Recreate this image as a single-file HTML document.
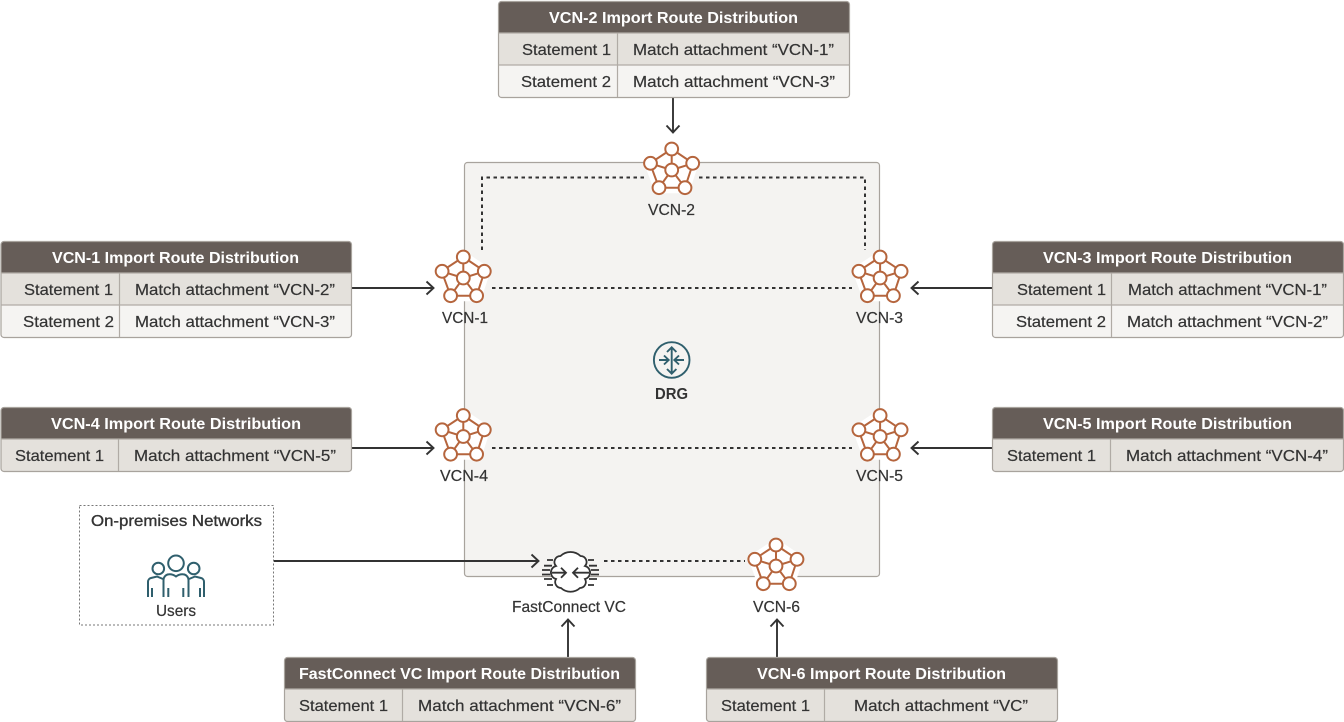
<!DOCTYPE html>
<html><head><meta charset="utf-8"><style>
html,body{margin:0;padding:0;background:#fff}
svg{display:block}
text{font-family:"Liberation Sans",sans-serif;font-size:16px;fill:#333;stroke:#333;stroke-width:.2px}
.t{fill:#fff;stroke:none;font-weight:bold}
.b{fill:#333;stroke:none;font-weight:bold}
.d{fill:none;stroke:#333;stroke-width:2;stroke-dasharray:3.5 3.5}
.a{fill:none;stroke:#333;stroke-width:1.9}
.h{fill:#665d58}.r1{fill:#e4e1dc}.r2{fill:#f5f4f2}
.o{fill:none;stroke:#a8a39d;stroke-width:1.2}
.l{stroke:#b0aba5;stroke-width:1.2;fill:none}
</style></head><body>
<svg width="1344" height="722" viewBox="0 0 1344 722" xmlns="http://www.w3.org/2000/svg">
<defs>
<g id="vcn">
<path d="M671.7 149L650 163.300L659 187.700H685L693 163.300Z" fill="#fff" stroke="#fff" stroke-width="11" stroke-linejoin="round"/>
<g stroke="#b5653d" stroke-width="2" fill="none">
<path d="M671.7 149L650 163.300L659 187.700H685L693 163.300ZM671.7 149V170M650 163.300L671.7 170M693 163.300L671.7 170M659 187.700L671.7 170M685 187.700L671.7 170"/>
<g fill="#fff"><circle cx="671.7" cy="149" r="6.4"/><circle cx="650.500" cy="163.300" r="6.4"/><circle cx="692.700" cy="163.300" r="6.4"/><circle cx="659" cy="187.700" r="6.4"/><circle cx="685" cy="187.700" r="6.4"/><circle cx="671.7" cy="170" r="6.4"/></g>
</g>
</g>
</defs>

<rect x="464.500" y="162.500" width="415" height="414" rx="3" fill="#f4f3f1" stroke="#a8a39d" stroke-width="1.2"/>

<path class="d" d="M482 250V177.500H645"/>
<path class="d" d="M699 177.500H865V250"/>
<path class="d" d="M492 288H852"/>
<path class="d" d="M492 448H852"/>
<path class="d" d="M604 561H745"/>

<path class="a" d="M673 97V132M666.500 125.500L673 132.500L679.500 125.500"/>
<path class="a" d="M352 288H433M426.500 281.500L433.500 288L426.500 294.500"/>
<path class="a" d="M992 288H912M918.500 281.500L911.500 288L918.500 294.500"/>
<path class="a" d="M352 448H433M426.500 441.500L433.500 448L426.500 454.500"/>
<path class="a" d="M992 448H912M918.500 441.500L911.500 448L918.500 454.500"/>
<path class="a" d="M274 561H538M531.500 554.500L538.500 561L531.500 567.500"/>
<path class="a" d="M568 657V620M561.500 626.500L568 619.500L574.500 626.500"/>
<path class="a" d="M777 657V620M770.500 626.500L777 619.500L783.500 626.500"/>

<!-- VCN-2 table -->
<rect x="498.500" y="1.500" width="351" height="96" rx="3" class="r2"/>
<path class="h" d="M498.500 33V4.500a3 3 0 0 1 3-3H846.500a3 3 0 0 1 3 3V33Z"/>
<rect x="498.500" y="33" width="351" height="32" class="r1"/>
<rect x="498.500" y="1.500" width="351" height="96" rx="3" class="o"/>
<path class="l" d="M498.500 33H849.500M498.500 65H849.500M617.500 33V97"/>
<text class="t" x="549" y="23" textLength="249" lengthAdjust="spacingAndGlyphs">VCN-2 Import Route Distribution</text>
<text x="522" y="55" textLength="89" lengthAdjust="spacingAndGlyphs">Statement 1</text>
<text x="633" y="55" textLength="201" lengthAdjust="spacingAndGlyphs">Match attachment “VCN-1”</text>
<text x="521" y="87" textLength="90" lengthAdjust="spacingAndGlyphs">Statement 2</text>
<text x="633" y="87" textLength="202" lengthAdjust="spacingAndGlyphs">Match attachment “VCN-3”</text>

<!-- VCN-1 table -->
<rect x="1" y="241.500" width="350.500" height="96" rx="3" class="r2"/>
<path class="h" d="M1 273V244.500a3 3 0 0 1 3-3H348.500a3 3 0 0 1 3 3V273Z"/>
<rect x="1" y="273" width="350.500" height="32" class="r1"/>
<rect x="1" y="241.500" width="350.500" height="96" rx="3" class="o"/>
<path class="l" d="M1 273H351.500M1 305H351.500M119.500 273V337"/>
<text class="t" x="52" y="263" textLength="247" lengthAdjust="spacingAndGlyphs">VCN-1 Import Route Distribution</text>
<text x="24" y="295" textLength="89" lengthAdjust="spacingAndGlyphs">Statement 1</text>
<text x="135" y="295" textLength="200" lengthAdjust="spacingAndGlyphs">Match attachment “VCN-2”</text>
<text x="23" y="327" textLength="91" lengthAdjust="spacingAndGlyphs">Statement 2</text>
<text x="135" y="327" textLength="200" lengthAdjust="spacingAndGlyphs">Match attachment “VCN-3”</text>

<!-- VCN-3 table -->
<rect x="992.500" y="241.500" width="351" height="96" rx="3" class="r2"/>
<path class="h" d="M992.500 273V244.500a3 3 0 0 1 3-3H1340.500a3 3 0 0 1 3 3V273Z"/>
<rect x="992.500" y="273" width="351" height="32" class="r1"/>
<rect x="992.500" y="241.500" width="351" height="96" rx="3" class="o"/>
<path class="l" d="M992.500 273H1343.500M992.500 305H1343.500M1111.500 273V337"/>
<text class="t" x="1043" y="263" textLength="249" lengthAdjust="spacingAndGlyphs">VCN-3 Import Route Distribution</text>
<text x="1017" y="295" textLength="89" lengthAdjust="spacingAndGlyphs">Statement 1</text>
<text x="1128" y="295" textLength="199" lengthAdjust="spacingAndGlyphs">Match attachment “VCN-1”</text>
<text x="1016" y="327" textLength="90" lengthAdjust="spacingAndGlyphs">Statement 2</text>
<text x="1127" y="327" textLength="201" lengthAdjust="spacingAndGlyphs">Match attachment “VCN-2”</text>

<!-- VCN-4 table -->
<rect x="1" y="407.500" width="350.500" height="64" rx="3" class="r1"/>
<path class="h" d="M1 439V410.500a3 3 0 0 1 3-3H348.500a3 3 0 0 1 3 3V439Z"/>
<rect x="1" y="407.500" width="350.500" height="64" rx="3" class="o"/>
<path class="l" d="M1 439H351.500M118.500 439V471"/>
<text class="t" x="51" y="429" textLength="250" lengthAdjust="spacingAndGlyphs">VCN-4 Import Route Distribution</text>
<text x="15" y="461" textLength="89" lengthAdjust="spacingAndGlyphs">Statement 1</text>
<text x="134" y="461" textLength="202" lengthAdjust="spacingAndGlyphs">Match attachment “VCN-5”</text>

<!-- VCN-5 table -->
<rect x="992.500" y="407.500" width="351" height="64" rx="3" class="r1"/>
<path class="h" d="M992.500 439V410.500a3 3 0 0 1 3-3H1340.500a3 3 0 0 1 3 3V439Z"/>
<rect x="992.500" y="407.500" width="351" height="64" rx="3" class="o"/>
<path class="l" d="M992.500 439H1343.500M1110.500 439V471"/>
<text class="t" x="1043" y="429" textLength="249" lengthAdjust="spacingAndGlyphs">VCN-5 Import Route Distribution</text>
<text x="1007" y="461" textLength="89" lengthAdjust="spacingAndGlyphs">Statement 1</text>
<text x="1126" y="461" textLength="202" lengthAdjust="spacingAndGlyphs">Match attachment “VCN-4”</text>

<!-- FastConnect table -->
<rect x="284.500" y="657.500" width="351" height="64" rx="3" class="r1"/>
<path class="h" d="M284.500 689V660.500a3 3 0 0 1 3-3H632.500a3 3 0 0 1 3 3V689Z"/>
<rect x="284.500" y="657.500" width="351" height="64" rx="3" class="o"/>
<path class="l" d="M284.500 689H635.500M402.500 689V721"/>
<text class="t" x="299" y="679" textLength="321" lengthAdjust="spacingAndGlyphs">FastConnect VC Import Route Distribution</text>
<text x="299" y="711" textLength="89" lengthAdjust="spacingAndGlyphs">Statement 1</text>
<text x="418" y="711" textLength="203" lengthAdjust="spacingAndGlyphs">Match attachment “VCN-6”</text>

<!-- VCN-6 table -->
<rect x="706.500" y="657.500" width="351" height="64" rx="3" class="r1"/>
<path class="h" d="M706.500 689V660.500a3 3 0 0 1 3-3H1054.500a3 3 0 0 1 3 3V689Z"/>
<rect x="706.500" y="657.500" width="351" height="64" rx="3" class="o"/>
<path class="l" d="M706.500 689H1057.500M824.500 689V721"/>
<text class="t" x="757" y="679" textLength="249" lengthAdjust="spacingAndGlyphs">VCN-6 Import Route Distribution</text>
<text x="721" y="711" textLength="89" lengthAdjust="spacingAndGlyphs">Statement 1</text>
<text x="854" y="711" textLength="174" lengthAdjust="spacingAndGlyphs">Match attachment “VC”</text>

<!-- VCN icons -->
<use href="#vcn"/>
<use href="#vcn" x="-208.400" y="108"/>
<use href="#vcn" x="208.400" y="108"/>
<use href="#vcn" x="-208.400" y="266.500"/>
<use href="#vcn" x="208.400" y="266.500"/>
<use href="#vcn" x="104.300" y="396"/>

<text x="648" y="215" textLength="47" lengthAdjust="spacingAndGlyphs">VCN-2</text>
<text x="442" y="323" textLength="46" lengthAdjust="spacingAndGlyphs">VCN-1</text>
<text x="856" y="323" textLength="47" lengthAdjust="spacingAndGlyphs">VCN-3</text>
<text x="440" y="481" textLength="48" lengthAdjust="spacingAndGlyphs">VCN-4</text>
<text x="856" y="481" textLength="47" lengthAdjust="spacingAndGlyphs">VCN-5</text>
<text x="753" y="612" textLength="47" lengthAdjust="spacingAndGlyphs">VCN-6</text>
<text x="512" y="612" textLength="114" lengthAdjust="spacingAndGlyphs">FastConnect VC</text>

<!-- DRG -->
<g fill="none" stroke="#2f5f6d" stroke-width="1.9">
<circle cx="671.700" cy="360" r="17.800"/>
<path d="M671.700 347.500V373.500M667 352L671.700 347.300L676.400 352M667 369L671.700 373.700L676.400 369"/>
<path d="M659 360H668.500M664 355.500L668.700 360L664 364.500M684 360H674.500M679 355.500L674.300 360L679 364.500"/>
</g>
<text class="b" x="655" y="399" textLength="33" lengthAdjust="spacingAndGlyphs">DRG</text>

<!-- On-premises -->
<rect x="79.500" y="505.500" width="194" height="119.500" fill="#fff" stroke="#777" stroke-dasharray="2 2"/>
<text x="91" y="526" textLength="171" lengthAdjust="spacingAndGlyphs" style="stroke-width:.35px">On-premises Networks</text>
<g fill="none" stroke="#2f5f6d" stroke-width="2">
<circle cx="176" cy="563.300" r="7.800"/>
<circle cx="158.300" cy="568.500" r="5.800"/>
<circle cx="193.700" cy="568.500" r="5.800"/>
<path d="M148 597V582a4 4 0 0 1 3-4L157 576.500L163 579M204 597V582a4 4 0 0 0-3-4L195 576.500L189 579"/>
<path d="M163.500 597V580a6 6 0 0 1 4-5.500Q172 573.500 176 576.500Q180 573.500 184.500 574.500a6 6 0 0 1 4 5.500V597"/>
<path d="M152 588V597M200 588V597M168.300 588V597M183.300 588V597"/>
</g>
<text x="156" y="616" textLength="40" lengthAdjust="spacingAndGlyphs">Users</text>

<!-- FastConnect icon -->
<path d="M556 566A6 6 0 0 1 560.500 556A14.500 14.500 0 0 1 580.500 556A6 6 0 0 1 585 566A6.700 6.700 0 0 1 585 579A6 6 0 0 1 580 588A14 14 0 0 1 561 588A6 6 0 0 1 556 579A6.700 6.700 0 0 1 556 566Z" fill="#fff" stroke="#333" stroke-width="1.8"/>
<g fill="none" stroke="#333" stroke-width="1.8">
<path d="M552 572.700H566M561 567.700L566 572.700L561 577.700M589 572.700H573M578 567.700L573 572.700L578 577.700"/>
<path d="M547 560H553M544 565.700H552M542 570H550M542 574.500H550M544 579H552M547 585H553M588 560H594M589 565.700H597M591 570H599M591 574.500H599M589 579H597M588 585H594"/>
</g>
</svg>
</body></html>
